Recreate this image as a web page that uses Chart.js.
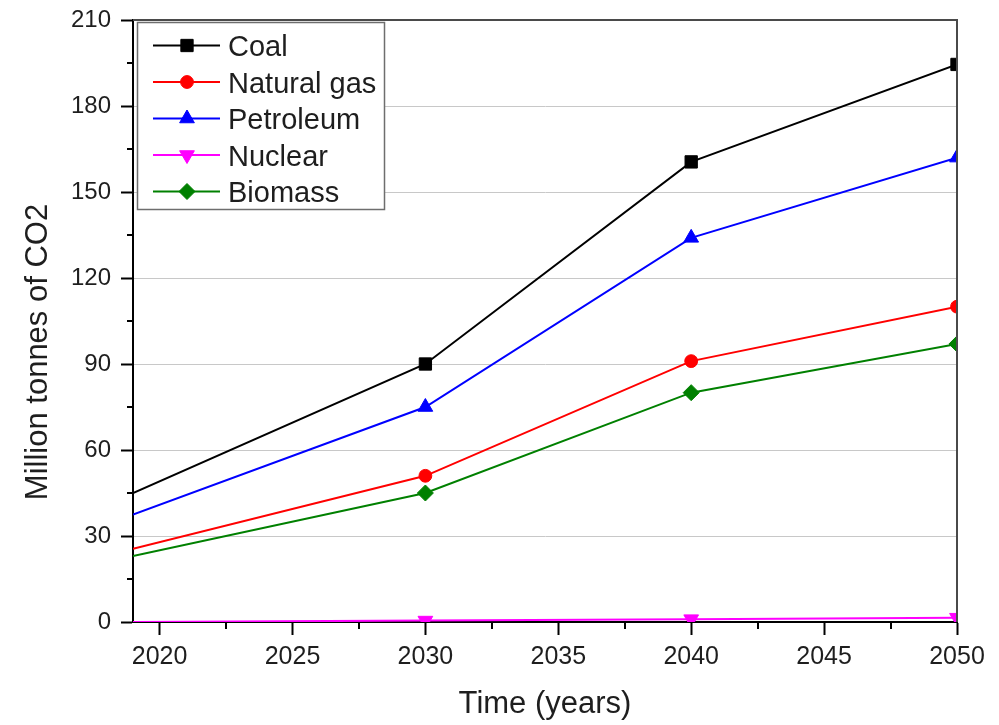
<!DOCTYPE html>
<html>
<head>
<meta charset="utf-8">
<script src="https://cdn.jsdelivr.net/npm/chart.js@4.4.1/dist/chart.umd.min.js"></script>
<style>
  html, body { margin: 0; padding: 0; background: #fff; }
  #wrap { width: 999px; height: 725px; position: relative; }
</style>
</head>
<body>
<div id="wrap"><canvas id="c" width="999" height="725"></canvas></div>
<script>
// Projected CO2 emissions by energy source (million tonnes)
const years = [2019, 2030, 2040, 2050];
const coal = [45, 90, 160.5, 194.5];
const naturalGas = [25.5, 51, 91, 110];
const petroleum = [37.5, 75, 134, 162];
const nuclear = [0, 0.5, 1, 1.5];
const biomass = [23, 45, 80, 97];

const seriesNames = ['Coal', 'Natural gas', 'Petroleum', 'Nuclear', 'Biomass'];
const xTicks = [2020, 2025, 2030, 2035, 2040, 2045, 2050];
const xMinorTicks = [2022.5, 2027.5, 2032.5, 2037.5, 2042.5, 2047.5];
const yTicks = [0, 30, 60, 90, 120, 150, 180, 210];
const yMinorTicks = [15, 45, 75, 105, 135, 165, 195];
const xTitle = 'Time (years)';
const yTitle = 'Million tonnes of CO2';

const FONT = "'Liberation Sans', Arial, sans-serif";
const TEXT = '#1e1e1e';

function pts(values) {
  return years.map((x, i) => ({ x: x, y: values[i] }));
}

function makeSet(label, values, color, style, radius, rotation) {
  return {
    label: label,
    data: pts(values),
    borderColor: color,
    backgroundColor: color,
    borderWidth: 2,
    pointStyle: style,
    pointRotation: rotation || 0,
    markerSize: radius,
    pointRadius: ctx => (ctx.dataIndex === 0 ? 0 : radius),
    pointBorderWidth: 1,
    pointBorderColor: color,
    pointBackgroundColor: color,
    tension: 0,
    clip: 0
  };
}

const datasets = [
  makeSet(seriesNames[0], coal, '#000000', 'rect', 8.7),
  makeSet(seriesNames[1], naturalGas, '#ff0000', 'circle', 6.4),
  makeSet(seriesNames[2], petroleum, '#0000ff', 'triangle', 8.5),
  makeSet(seriesNames[3], nuclear, '#ff00ff', 'triangle', 8.5, 180),
  makeSet(seriesNames[4], biomass, '#008000', 'rectRot', 8)
];

// Legend box drawn inside the plot frame, top-left
const frameLegend = {
  id: 'frameLegend',
  afterDatasetsDraw(chart) {
    const ctx = chart.ctx;
    const x0 = 137, y0 = 22, w = 247, h = 187;
    ctx.save();
    ctx.fillStyle = '#ffffff';
    ctx.fillRect(x0, y0, w, h);
    ctx.strokeStyle = '#6e6e6e';
    ctx.lineWidth = 1.5;
    ctx.strokeRect(x0 + 0.5, y0 + 0.5, w, h);
    chart.data.datasets.forEach((ds, i) => {
      const cy = 45.5 + i * 36.5;
      ctx.strokeStyle = ds.borderColor;
      ctx.lineWidth = 2;
      ctx.beginPath();
      ctx.moveTo(153, cy);
      ctx.lineTo(220, cy);
      ctx.stroke();
      ctx.fillStyle = ds.pointBackgroundColor;
      ctx.strokeStyle = ds.pointBorderColor;
      ctx.lineWidth = 1;
      Chart.helpers.drawPoint(ctx, { pointStyle: ds.pointStyle, rotation: ds.pointRotation, radius: ds.markerSize, borderWidth: 1 }, 187, cy);
      ctx.fillStyle = TEXT;
      ctx.font = '29px ' + FONT;
      ctx.textBaseline = 'alphabetic';
      ctx.textAlign = 'left';
      ctx.fillText(ds.label, 228, cy + 10.5);
    });
    ctx.restore();
  }
};

// Top/right frame lines, minor tick marks and axis titles
const frameAndMinor = {
  id: 'frameAndMinor',
  afterDraw(chart) {
    const ctx = chart.ctx;
    const a = chart.chartArea;
    const xs = chart.scales.x, ys = chart.scales.y;
    ctx.save();
    ctx.strokeStyle = '#4a4a4a';
    ctx.lineWidth = 2;
    ctx.beginPath();
    ctx.moveTo(a.left, a.top);
    ctx.lineTo(a.right, a.top);
    ctx.lineTo(a.right, a.bottom);
    ctx.stroke();
    ctx.strokeStyle = '#000';
    ctx.lineWidth = 2;
    ctx.beginPath();
    yMinorTicks.forEach(v => {
      const py = Math.round(ys.getPixelForValue(v));
      ctx.moveTo(a.left, py);
      ctx.lineTo(a.left - 6, py);
    });
    xMinorTicks.forEach(v => {
      const px = Math.round(xs.getPixelForValue(v));
      ctx.moveTo(px, a.bottom);
      ctx.lineTo(px, a.bottom + 7);
    });
    ctx.stroke();

    ctx.fillStyle = TEXT;
    ctx.font = '31px ' + FONT;
    ctx.textAlign = 'center';
    ctx.textBaseline = 'alphabetic';
    ctx.fillText(xTitle, (a.left + a.right) / 2, 713);
    ctx.translate(47, 352);
    ctx.rotate(-Math.PI / 2);
    ctx.fillText(yTitle, 0, 0);
    ctx.restore();
  }
};

new Chart(document.getElementById('c'), {
  type: 'line',
  data: { datasets: datasets },
  options: {
    responsive: false,
    animation: false,
    layout: { padding: { left: 0, right: 42, top: 20, bottom: 0 } },
    plugins: { legend: { display: false }, tooltip: { enabled: false } },
    scales: {
      x: {
        type: 'linear',
        min: 2019,
        max: 2050,
        afterBuildTicks: s => { s.ticks = xTicks.map(v => ({ value: v })); },
        afterFit: s => { s.height = 103; s.paddingLeft = 0; s.paddingRight = 0; },
        grid: { drawOnChartArea: false, tickLength: 13, tickColor: '#000', tickWidth: 2 },
        border: { color: '#000', width: 2 },
        ticks: { color: TEXT, font: { family: FONT, size: 25 }, padding: 7, maxRotation: 0, callback: v => String(v) }
      },
      y: {
        min: 0,
        max: 210,
        afterBuildTicks: s => { s.ticks = yTicks.map(v => ({ value: v })); },
        afterFit: s => { s.width = 133; s.paddingTop = 0; s.paddingBottom = 0; },
        grid: {
          color: c => (c.tick && (c.tick.value === 0 || c.tick.value === 210) ? 'rgba(0,0,0,0)' : '#c8c8c8'),
          lineWidth: 1,
          tickLength: 12,
          tickColor: '#000',
          tickWidth: 2
        },
        border: { color: '#000', width: 2 },
        ticks: { color: TEXT, font: { family: FONT, size: 24 }, padding: 10 }
      }
    }
  },
  plugins: [frameLegend, frameAndMinor]
});
</script>
</body>
</html>
